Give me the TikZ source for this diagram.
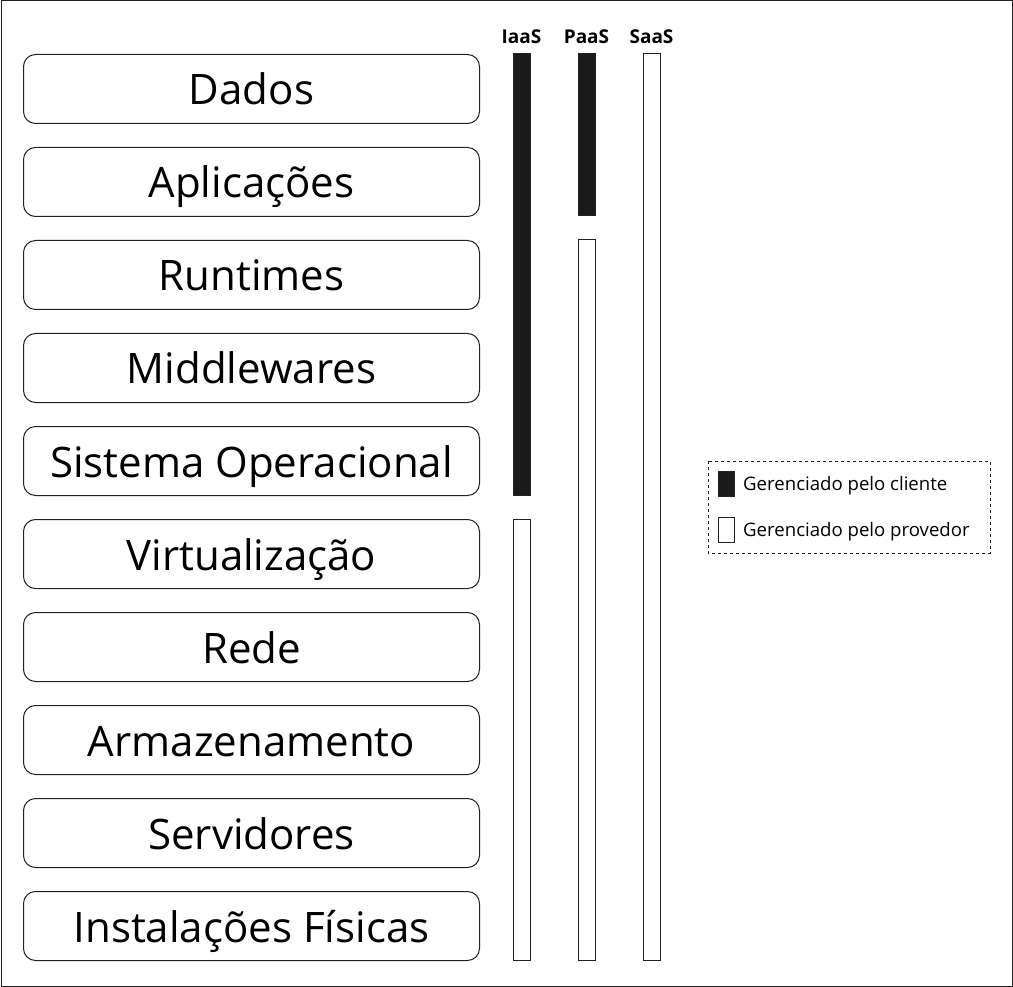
\documentclass[tikz,border=0pt]{standalone}
\usepackage{fontspec}
\setmainfont{Open Sans}
\definecolor{darkfill}{HTML}{1A1A1A}
\definecolor{edge}{HTML}{222222}
\begin{document}
\begin{tikzpicture}[x=1pt,y=-1pt,
  layer/.style={draw=edge,line width=1pt,rounded corners=12pt,minimum width=456pt,minimum height=69pt,inner sep=0pt,text height=42pt,text depth=10pt,font=\fontsize{42}{46}\selectfont,anchor=north west},
  cbar/.style={draw=edge,fill=darkfill,line width=1pt},
  pbar/.style={draw=edge,fill=white,line width=1pt},
  head/.style={font=\bfseries\fontsize{19}{21}\selectfont,anchor=center},
  legtext/.style={font=\fontsize{18.6}{20}\selectfont,anchor=west,inner sep=0pt}]
\useasboundingbox (0,0) rectangle (1013,987);
\draw[line width=1pt,draw=edge] (1,1) rectangle (1012,986);
% layers
\node[layer] (l1) at (23,54) {Dados};
\node[layer] (l2) at (23,147) {Aplicações};
\node[layer] (l3) at (23,240) {Runtimes};
\node[layer] (l4) at (23,333) {Middlewares};
\node[layer] (l5) at (23,426) {Sistema Operacional};
\node[layer] (l6) at (23,519) {Virtualização};
\node[layer] (l7) at (23,612) {Rede};
\node[layer] (l8) at (23,705) {Armazenamento};
\node[layer] (l9) at (23,798) {Servidores};
\node[layer] (l10) at (23,891) {Instalações Físicas};
% headers
\node[head] (iaas) at (521.5,37) {IaaS};
\node[head] (paas) at (586.5,37) {PaaS};
\node[head] (saas) at (651.5,37) {SaaS};
% bars
\draw[cbar] (513,54) rectangle (530,495);
\draw[pbar] (513,519) rectangle (530,960);
\draw[cbar] (578,54) rectangle (595,216);
\draw[pbar] (578,240) rectangle (595,960);
\draw[pbar] (643,54) rectangle (660,960);
% legend
\draw[dashed,draw=edge,line width=0.8pt] (708,461) rectangle (990,553);
\draw[cbar] (718,471) rectangle (734,496);
\draw[pbar] (718,517) rectangle (734,542);
\node[legtext] (lc) at (743,486) {Gerenciado pelo cliente};
\node[legtext] (lp) at (743,532) {Gerenciado pelo provedor};
\end{tikzpicture}
\end{document}
